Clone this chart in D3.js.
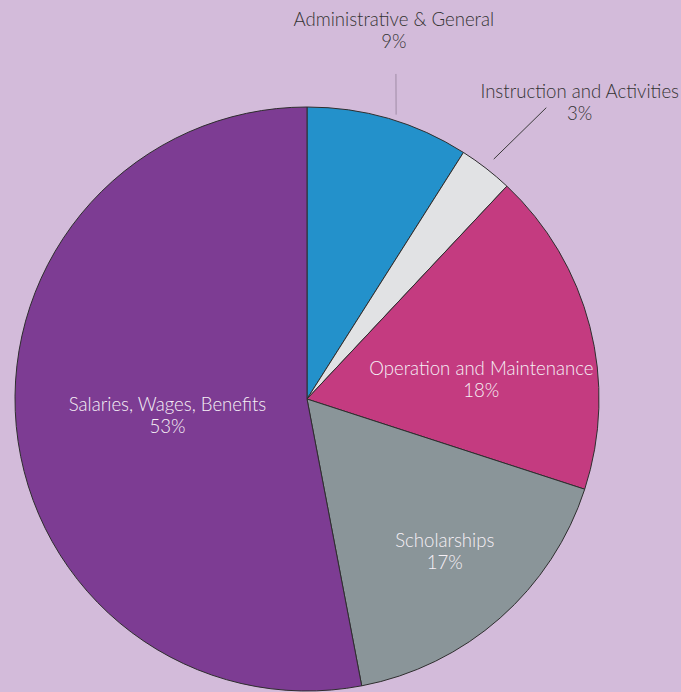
<!DOCTYPE html>
<html>
<head>
<meta charset="utf-8">
<script src="https://cdn.jsdelivr.net/npm/d3@7"></script>
<style>
  html, body { margin: 0; padding: 0; background: #d3bbda; }
  svg { display: block; }
  text { font-family: Lato, "Noto Sans", sans-serif; }
</style>
</head>
<body>
<div id="chart"></div>
<script>
// data
const categories = ["Administrative & General", "Instruction and Activities", "Operation and Maintenance", "Scholarships", "Salaries, Wages, Benefits"];
const percents = [9, 3, 18, 17, 53];
const sliceColors = ["#2391cb", "#e1e2e4", "#c43b80", "#8a9599", "#7d3c93"];

// label layout: [radius, angle nudge in degrees, outside?]
const labelPlace = [
    [383, -3.1, true],
    [406, 4.4, true],
    [176, 6.5, false],
    [202, -1.6, false],
    [140, 0.5, false]
];
// leader lines (polar, relative to pie center): [[angle, r], [angle, r]]
const leaders = {
    0: [[15.3, 337], [17.4, 298], "#a08ca6"],
    1: [[39.4, 377], [37.9, 304], "#3a3a3a"]
};

const width = 681, height = 692;
const cx = 307, cy = 399, radius = 292;

const svg = d3.select("#chart")
    .append("svg")
    .attr("width", width)
    .attr("height", height);

svg.append("rect")
    .attr("width", width)
    .attr("height", height)
    .attr("fill", "#d3bbda");

const g = svg.append("g")
    .attr("transform", `translate(${cx}, ${cy})`);

const pie = d3.pie().sort(null).value(d => d);
const arcs = pie(percents);

const arc = d3.arc().innerRadius(0).outerRadius(radius);

g.selectAll("path.slice")
    .data(arcs)
    .enter()
    .append("path")
    .attr("class", "slice")
    .attr("d", arc)
    .attr("fill", (d, i) => sliceColors[i])
    .attr("stroke", "#2e2e2e")
    .attr("stroke-width", 1);

function polar(angleDeg, r) {
    const a = angleDeg * Math.PI / 180;
    return [r * Math.sin(a), -r * Math.cos(a)];
}

// leader lines
Object.keys(leaders).forEach(k => {
    const [p0, p1, col] = leaders[k];
    const a = polar(p0[0], p0[1]), b = polar(p1[0], p1[1]);
    g.append("line")
        .attr("x1", a[0]).attr("y1", a[1])
        .attr("x2", b[0]).attr("y2", b[1])
        .attr("stroke", col)
        .attr("stroke-width", 1);
});

// labels
const labels = g.selectAll("text.label")
    .data(arcs)
    .enter()
    .append("text")
    .attr("class", "label")
    .attr("text-anchor", "middle")
    .attr("font-size", "18.6px")
    .attr("font-weight", 300)
    .attr("fill", (d, i) => labelPlace[i][2] ? "#333333" : "#f6f0f6")
    .attr("transform", (d, i) => {
        const mid = (d.startAngle + d.endAngle) / 2 * 180 / Math.PI + labelPlace[i][1];
        const p = polar(mid, labelPlace[i][0]);
        return `translate(${p[0]}, ${p[1]})`;
    });

labels.append("tspan")
    .attr("x", 0)
    .text((d, i) => categories[i]);

labels.append("tspan")
    .attr("x", 0)
    .attr("dy", 22)
    .text(d => d.data + "%");
</script>
</body>
</html>
